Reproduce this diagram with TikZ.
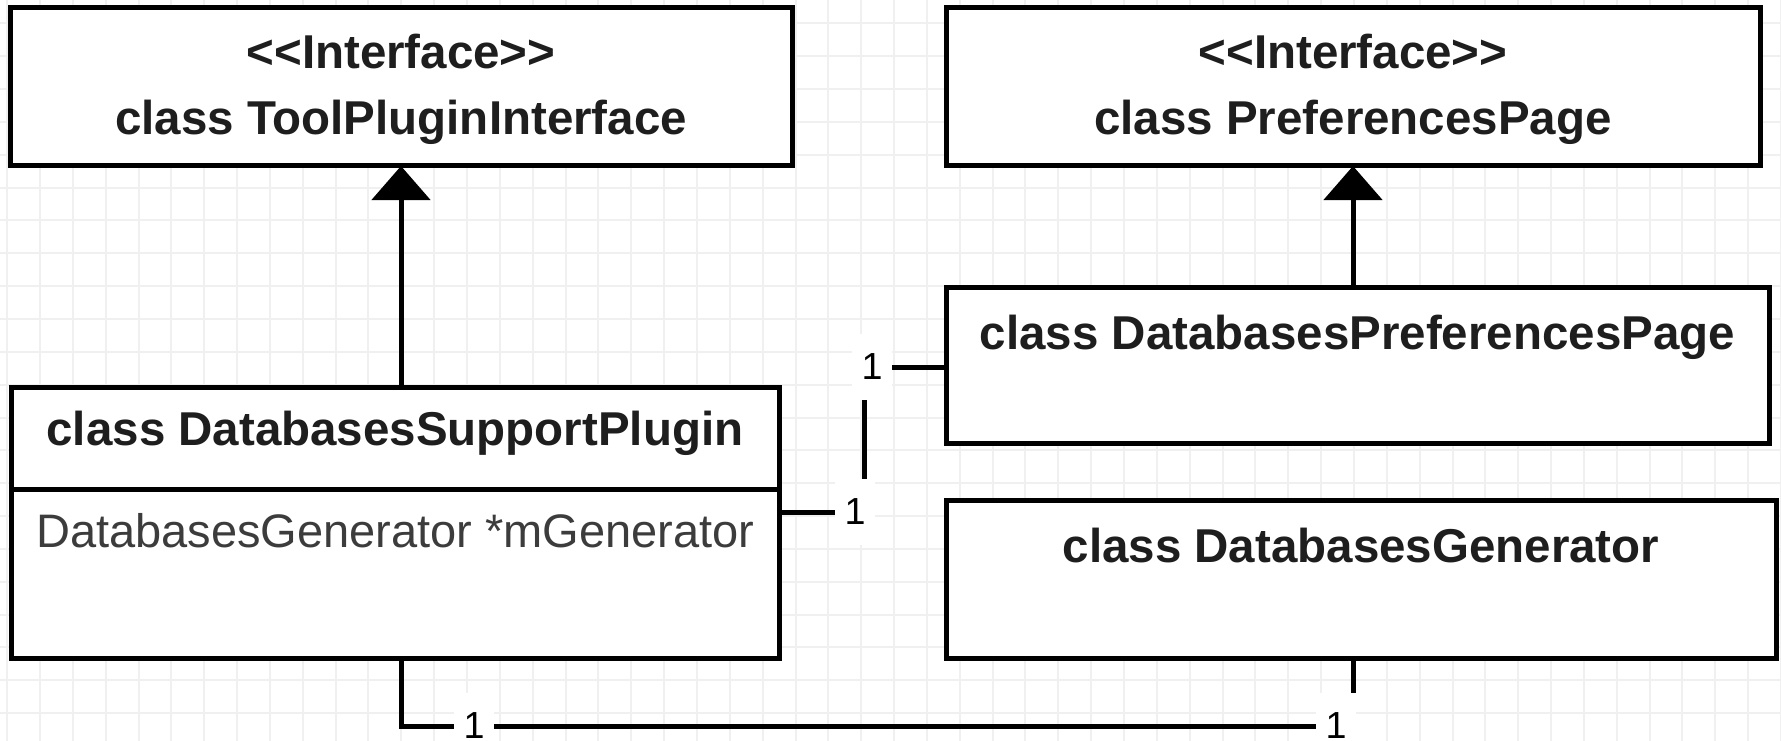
\documentclass[tikz,border=0pt]{standalone}
\usepackage{fontspec}
\setmainfont{Liberation Sans}
\usetikzlibrary{arrows.meta}

\definecolor{gridgray}{HTML}{F0F0F0}
\definecolor{titleink}{HTML}{1E1E1E}
\definecolor{attrink}{HTML}{3C3C3C}

\newcommand\umltitlefont{\bfseries\fontsize{47.5}{57}\selectfont}
\newcommand\umlattrfont{\fontsize{47}{56}\selectfont}
\newcommand\umlmultfont{\fontsize{37.7}{45}\selectfont}

\begin{document}
\begin{tikzpicture}[x=1pt, y=-1pt,
  umlbox/.style={rectangle, draw=black, line width=5pt, fill=white,
                 inner sep=0pt, outer sep=0pt},
  assoc/.style={draw=black, line width=5pt},
  realize/.style={assoc, -{Triangle[length=34pt, width=58pt]}},
  mult/.style={fill=white, inner sep=0pt, minimum width=40pt,
               minimum height=66pt, font=\umlmultfont, text=black},
  umltitle/.style={anchor=base, inner sep=0pt, font=\umltitlefont, text=titleink},
  umlattr/.style={anchor=base west, inner sep=0pt, font=\umlattrfont, text=attrink},
  gridline/.style={draw=gridgray, line width=2pt}
]
\useasboundingbox (0,0) rectangle (1781,741);
\fill[white] (0,0) rectangle (1781,741);

% background grid
\foreach \i in {0,...,54}
  \draw[gridline] ({7.1+32.85*\i},0) -- ({7.1+32.85*\i},741);
\foreach \j in {0,...,22}
  \draw[gridline] (0,{23.3+32.85*\j}) -- (1781,{23.3+32.85*\j});

% class boxes
\node[umlbox, minimum width=782pt, minimum height=158pt] (A) at (401,87) {};
\node[umlbox, minimum width=814pt, minimum height=158pt] (B) at (1353,87) {};
\node[umlbox, minimum width=768pt, minimum height=271pt] (C) at (395,522.5) {};
\node[umlbox, minimum width=823pt, minimum height=156pt] (D) at (1357.5,365) {};
\node[umlbox, minimum width=830pt, minimum height=158pt] (E) at (1361,579) {};

% compartment divider of DatabasesSupportPlugin
\coordinate (cdiv) at (0,489);
\draw[assoc] (C.west |- cdiv) -- (C.east |- cdiv);

% box texts
\node[umltitle] (Ast) at (401,69) {<\kern0pt<Interface>\kern0pt>};
\node[umltitle] (Anm) at (401,135) {class ToolPluginInterface};
\node[umltitle] (Bst) at (1353,69) {<\kern0pt<Interface>\kern0pt>};
\node[umltitle] (Bnm) at (1353,135) {class PreferencesPage};
\node[umltitle] (Cnm) at (395,445) {class DatabasesSupportPlugin};
\node[umlattr]  (Cat) at (36,547) {DatabasesGenerator *mGenerator};
\node[umltitle] (Dnm) at (1357.5,349) {class DatabasesPreferencesPage};
\node[umltitle] (Enm) at (1361,562) {class DatabasesGenerator};

% multiplicity label positions
\coordinate (l1) at (855,512);
\coordinate (l2) at (872,367);
\coordinate (l3) at (474,726);
\coordinate (l4) at (1336,726);
\coordinate (cdx) at (864,0);

% realizations
\draw[realize] (C.north -| A.south) -- (A.south);
\draw[realize] (D.north -| B.south) -- (B.south);

% associations
\draw[assoc] (C.east |- l1) -| (cdx |- l2) -- (D.west |- l2);
\draw[assoc] (C.south -| A.south) |- (B.south |- l4) -- (E.south -| B.south);

% multiplicities
\node[mult] (m1) at (l1) {1};
\node[mult] (m2) at (l2) {1};
\node[mult] (m3) at (l3) {1};
\node[mult] (m4) at (l4) {1};
\end{tikzpicture}
\end{document}
